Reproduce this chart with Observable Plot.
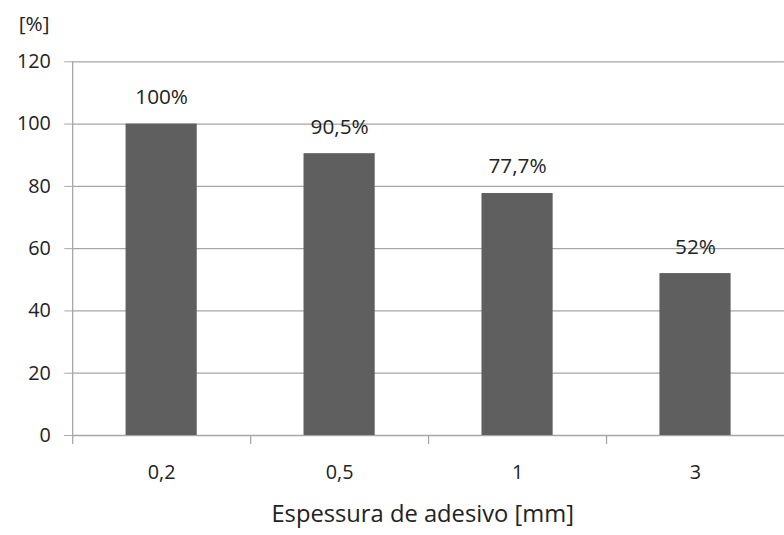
<!DOCTYPE html>
<html>
<head>
<meta charset="utf-8">
<script src="https://cdn.jsdelivr.net/npm/d3@7"></script>
<script src="https://cdn.jsdelivr.net/npm/@observablehq/plot@0.6"></script>
<style>
  html, body { margin: 0; padding: 0; background: #fff; overflow: hidden; }
  #chart svg { display: block; }
</style>
</head>
<body>
<div id="chart"></div>
<script>
// Adhesive thickness categories and relative strength values (%)
const categories = ["0,2", "0,5", "1", "3"];
const values = [100, 90.5, 77.7, 52];
const valueLabels = ["100%", "90,5%", "77,7%", "52%"];
const yTicks = [0, 20, 40, 60, 80, 100, 120];
const yUnit = "[%]";
const xTitle = "Espessura de adesivo [mm]";

const data = categories.map((c, i) => ({cat: c, value: values[i], label: valueLabels[i]}));

const W = 793, H = 535;
const ML = 73, MR = 0, MT = 62, MB = 95;
const step = (W - ML - MR) / categories.length;
const grid = "#a6a6a6";
const font = "'Open Sans', sans-serif";

const chart = Plot.plot({
  width: W,
  height: H,
  marginLeft: ML,
  marginRight: MR,
  marginTop: MT,
  marginBottom: MB,
  style: {fontFamily: font, color: "#222", background: "#fff"},
  x: {domain: categories, paddingInner: 0.6, paddingOuter: 0.3, label: null},
  y: {domain: [0, 120], label: null},
  marks: [
    // horizontal gridlines, including the baseline
    Plot.ruleY(yTicks, {stroke: grid, strokeWidth: 1.3}),
    // vertical value axis line
    Plot.frame({anchor: "left", stroke: grid, strokeWidth: 1.3}),
    // category boundary ticks below the baseline
    Plot.ruleX(categories, {x: d => d, dx: -step / 2, y1: 0, y2: 0, insetBottom: -9, stroke: grid, strokeWidth: 1.3}),
    Plot.barY(data, {x: "cat", y: "value", fill: "#5f5f5f"}),
    Plot.text(data, {x: "cat", y: "value", text: "label", dy: -27, fontSize: 21, fill: "#222"}),
    Plot.axisY({ticks: yTicks, tickSize: 8, tickPadding: 14, stroke: grid, fontSize: 20, label: null, tickFormat: d => String(d)}),
    Plot.axisX({tickSize: 0, tickPadding: 30, fontSize: 20, label: null}),
    Plot.text([yUnit], {frameAnchor: "top-left", textAnchor: "middle", lineAnchor: "middle", dx: -39, dy: -38, fontSize: 21, fill: "#222"}),
    Plot.text([xTitle], {frameAnchor: "bottom", lineAnchor: "middle", dx: -6, dy: 80, fontSize: 24, fill: "#222"})
  ]
});

document.getElementById("chart").appendChild(chart);
</script>
</body>
</html>
